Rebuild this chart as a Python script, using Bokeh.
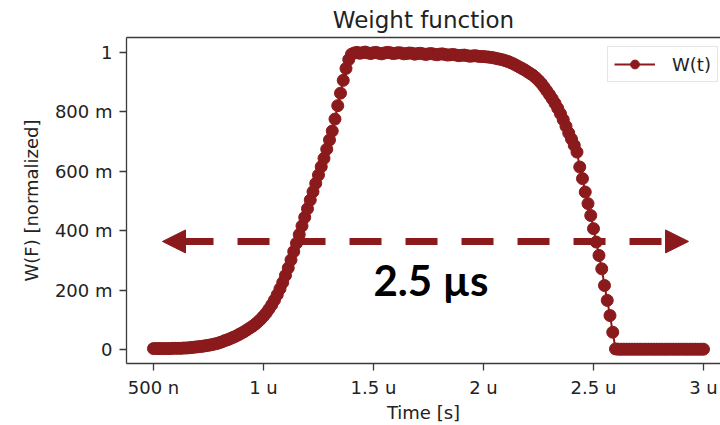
from bokeh.plotting import figure
from bokeh.models import (ColumnDataSource, FixedTicker, LinearAxis, Range1d, Arrow,
                          NormalHead, Label, Legend, LegendItem)
from bokeh.embed import file_html
from bokeh.resources import INLINE

# ---- data (time in microseconds, weight normalized) ----
time_us = [
    0.5, 0.5125, 0.525, 0.5375, 0.55, 0.5625, 0.575, 0.5875,
    0.6, 0.6125, 0.625, 0.6375, 0.65, 0.6625, 0.675, 0.6875,
    0.7, 0.7125, 0.725, 0.7375, 0.75, 0.7625, 0.775, 0.7875,
    0.8, 0.8125, 0.825, 0.8375, 0.85, 0.8625, 0.875, 0.8875,
    0.9, 0.9125, 0.925, 0.9375, 0.95, 0.9625, 0.975, 0.9875,
    1.0, 1.0125, 1.025, 1.0375, 1.05, 1.0625, 1.075, 1.0875,
    1.1, 1.1125, 1.125, 1.1375, 1.15, 1.1625, 1.175, 1.1875,
    1.2, 1.2125, 1.225, 1.2375, 1.25, 1.2625, 1.275, 1.2875,
    1.3, 1.3125, 1.325, 1.3375, 1.35, 1.3625, 1.375, 1.3875,
    1.4, 1.4125, 1.425, 1.4375, 1.45, 1.4625, 1.475, 1.4875,
    1.5, 1.5125, 1.525, 1.5375, 1.55, 1.5625, 1.575, 1.5875,
    1.6, 1.6125, 1.625, 1.6375, 1.65, 1.6625, 1.675, 1.6875,
    1.7, 1.7125, 1.725, 1.7375, 1.75, 1.7625, 1.775, 1.7875,
    1.8, 1.8125, 1.825, 1.8375, 1.85, 1.8625, 1.875, 1.8875,
    1.9, 1.9125, 1.925, 1.9375, 1.95, 1.9625, 1.975, 1.9875,
    2.0, 2.0125, 2.025, 2.0375, 2.05, 2.0625, 2.075, 2.0875,
    2.1, 2.1125, 2.125, 2.1375, 2.15, 2.1625, 2.175, 2.1875,
    2.2, 2.2125, 2.225, 2.2375, 2.25, 2.2625, 2.275, 2.2875,
    2.3, 2.3125, 2.325, 2.3375, 2.35, 2.3625, 2.375, 2.3875,
    2.4, 2.4125, 2.425, 2.4375, 2.45, 2.4625, 2.475, 2.4875,
    2.5, 2.5125, 2.525, 2.5375, 2.55, 2.5625, 2.575, 2.5875,
    2.6, 2.6125, 2.625, 2.6375, 2.65, 2.6625, 2.675, 2.6875,
    2.7, 2.7125, 2.725, 2.7375, 2.75, 2.7625, 2.775, 2.7875,
    2.8, 2.8125, 2.825, 2.8375, 2.85, 2.8625, 2.875, 2.8875,
    2.9, 2.9125, 2.925, 2.9375, 2.95, 2.9625, 2.975, 2.9875,
    3.0,
]
weight = [
    0.004, 0.004, 0.004, 0.004, 0.004, 0.004, 0.004, 0.005,
    0.005, 0.005, 0.005, 0.006, 0.006, 0.007, 0.008, 0.009,
    0.010, 0.011, 0.012, 0.014, 0.015, 0.017, 0.019, 0.021,
    0.024, 0.027, 0.031, 0.034, 0.038, 0.042, 0.046, 0.051,
    0.056, 0.061, 0.067, 0.073, 0.079, 0.086, 0.094, 0.103,
    0.113, 0.124, 0.137, 0.151, 0.167, 0.185, 0.205, 0.226,
    0.250, 0.275, 0.302, 0.330, 0.358, 0.387, 0.416, 0.445,
    0.474, 0.503, 0.531, 0.559, 0.587, 0.615, 0.643, 0.674,
    0.705, 0.735, 0.775, 0.820, 0.862, 0.905, 0.945, 0.975,
    0.993, 0.997, 0.999, 0.996, 0.998, 1.000, 0.997, 0.995,
    0.998, 0.999, 0.996, 0.994, 0.997, 0.999, 0.998, 0.995,
    0.996, 0.998, 0.997, 0.994, 0.995, 0.997, 0.996, 0.993,
    0.995, 0.996, 0.994, 0.992, 0.994, 0.995, 0.993, 0.991,
    0.993, 0.994, 0.992, 0.990, 0.991, 0.992, 0.990, 0.988,
    0.989, 0.990, 0.988, 0.986, 0.987, 0.988, 0.986, 0.985,
    0.985, 0.984, 0.983, 0.982, 0.980, 0.978, 0.976, 0.974,
    0.971, 0.968, 0.964, 0.960, 0.955, 0.950, 0.945, 0.940,
    0.934, 0.928, 0.922, 0.914, 0.905, 0.895, 0.883, 0.870,
    0.857, 0.843, 0.828, 0.811, 0.793, 0.773, 0.751, 0.728,
    0.708, 0.687, 0.664, 0.614, 0.575, 0.530, 0.491, 0.451,
    0.407, 0.362, 0.317, 0.272, 0.216, 0.166, 0.115, 0.059,
    0.003, 0.002, 0.002, 0.002, 0.002, 0.002, 0.002, 0.002,
    0.002, 0.002, 0.002, 0.002, 0.002, 0.002, 0.002, 0.002,
    0.002, 0.002, 0.002, 0.002, 0.002, 0.002, 0.002, 0.002,
    0.002, 0.002, 0.002, 0.002, 0.002, 0.002, 0.002, 0.002,
    0.002,
]
x_ticks = [0.5, 1.0, 1.5, 2.0, 2.5, 3.0]
x_tick_labels = ["500 n", "1 u", "1.5 u", "2 u", "2.5 u", "3 u"]
y_ticks = [0.0, 0.2, 0.4, 0.6, 0.8, 1.0]
y_tick_labels = ["0", "200 m", "400 m", "600 m", "800 m", "1"]
series_label = "W(t)"
title_text = "Weight function"
arrow_from, arrow_to, arrow_level = 0.541, 2.932, 0.364
span_text = "2.5 µs"
span_text_x, span_text_y = 1.5, 0.236

RED = "#8B1A1C"
SPINE = "#3a3a3a"
TXT = "#222222"
FONT = "DejaVu Sans"

p = figure(width=720, height=425,
           x_range=Range1d(0.3773, 3.0773), y_range=Range1d(-0.046, 1.049),
           output_backend="svg", toolbar_location=None,
           min_border_left=126, min_border_right=0,
           min_border_top=37, min_border_bottom=62)
p.xgrid.visible = False
p.ygrid.visible = False
p.outline_line_color = None
p.background_fill_color = "white"
p.border_fill_color = "white"

p.title.text = title_text
p.title.text_font = FONT
p.title.text_font_size = "23px"
p.title.text_font_style = "normal"
p.title.text_color = TXT
p.title.align = "center"
p.title.standoff = 9


def style_axis(ax):
    ax.axis_line_color = SPINE
    ax.axis_line_width = 1.3
    ax.major_tick_line_color = SPINE
    ax.major_tick_line_width = 1.3
    ax.major_tick_out = 7
    ax.major_tick_in = 0
    ax.minor_tick_out = 0
    ax.minor_tick_in = 0
    ax.major_label_text_font = FONT
    ax.major_label_text_font_size = "18px"
    ax.major_label_text_color = TXT
    ax.axis_label_text_font = FONT
    ax.axis_label_text_font_size = "18px"
    ax.axis_label_text_font_style = "normal"
    ax.axis_label_text_color = TXT


xa = p.xaxis[0]
style_axis(xa)
xa.ticker = FixedTicker(ticks=x_ticks)
xa.major_label_overrides = {t: l for t, l in zip(x_ticks, x_tick_labels)}
xa.axis_label = "Time [s]"
xa.major_label_standoff = 6
xa.axis_label_standoff = 1

ya = p.yaxis[0]
style_axis(ya)
ya.ticker = FixedTicker(ticks=y_ticks)
ya.major_label_overrides = {t: l for t, l in zip(y_ticks, y_tick_labels)}
ya.axis_label = "W(F) [normalized]"
ya.major_label_standoff = 7
ya.axis_label_standoff = 10

top = LinearAxis(ticker=FixedTicker(ticks=[]), axis_line_color=SPINE, axis_line_width=1.3,
                 major_tick_out=0, major_tick_in=0, minor_tick_out=0, minor_tick_in=0,
                 major_label_standoff=0)
p.add_layout(top, "above")

src = ColumnDataSource(dict(t=time_us, w=weight))
ln = p.line("t", "w", source=src, line_color=RED, line_width=2)
sc = p.scatter("t", "w", source=src, size=12, marker="circle",
               fill_color=RED, line_color=RED)

arr = Arrow(start=NormalHead(size=23, fill_color=RED, line_color=RED, line_width=1),
            end=NormalHead(size=23, fill_color=RED, line_color=RED, line_width=1),
            x_start=arrow_from, y_start=arrow_level, x_end=arrow_to, y_end=arrow_level,
            line_color=RED, line_width=7, line_dash="32 24", line_dash_offset=37)
p.add_layout(arr)

lab = Label(x=span_text_x, y=span_text_y, text=span_text, text_font="Lato",
            text_font_style="bold", text_font_size="42px", text_color="black",
            text_baseline="alphabetic", text_align="left")
p.add_layout(lab)

legend = Legend(items=[LegendItem(label=series_label, renderers=[ln, sc])],
                location=(481, 281), padding=6, margin=0, spacing=0,
                glyph_width=41, glyph_height=22, label_height=22, label_standoff=17,
                label_text_font=FONT, label_text_font_size="18px", label_text_color=TXT,
                border_line_color="#cccccc", border_line_width=1,
                background_fill_color="white", background_fill_alpha=0.8)
p.add_layout(legend)

open("out.html", "w").write(file_html(p, INLINE))
